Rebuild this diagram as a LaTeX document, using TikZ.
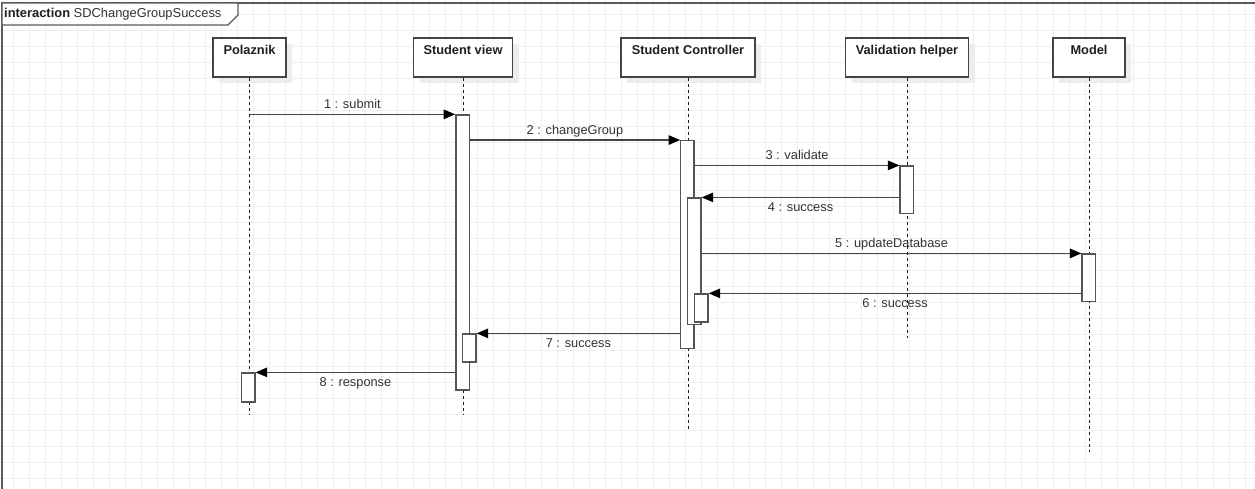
\documentclass[tikz,border=0pt]{standalone}
\usepackage{fontspec}
\setmainfont{Liberation Sans}
\usetikzlibrary{arrows.meta}
\definecolor{gridc}{HTML}{EFEFEF}
\definecolor{linec}{HTML}{444444}
\definecolor{actc}{HTML}{555555}
\definecolor{txtc}{HTML}{333333}
\definecolor{shadc}{HTML}{EDEDED}
\definecolor{framec}{HTML}{5A5A5A}
\begin{document}
\begin{tikzpicture}[x=1pt,y=-1pt,
  lifehead/.style={draw=linec, line width=1.4pt, fill=white, minimum height=39pt, inner sep=0pt},
  headtxt/.style={font=\fontsize{12.8}{15}\selectfont\bfseries, text=black!88, anchor=base, inner sep=0pt},
  lifeline/.style={draw=black!90, line width=0.9pt, dash pattern=on 3pt off 3pt},
  actbox/.style={draw=actc, line width=1.3pt, fill=white, minimum width=13.3pt, inner sep=0pt},
  msg/.style={draw=linec, line width=1.3pt, -{Triangle[length=11.5pt,width=9.5pt,black]}},
  lbla/.style={font=\fontsize{12.8}{15}\selectfont, text=txtc, anchor=base, yshift=5.7pt, inner sep=0pt},
  lblb/.style={font=\fontsize{12.8}{15}\selectfont, text=txtc, anchor=base, yshift=-14.5pt, inner sep=0pt},
]
\useasboundingbox (0,0) rectangle (1255,488);
\clip (0,0) rectangle (1255,488);
\fill[white] (0,0) rectangle (1255,488);
% grid
\foreach \gx in {13.3,29.3,...,1255} \draw[gridc, line width=1pt] (\gx,0) -- (\gx,488);
\foreach \gy in {14.3,30.3,...,488} \draw[gridc, line width=1pt] (0,\gy) -- (1255,\gy);

% frame
\draw[framec, line width=1.5pt] (2,495) -- (2,3) -- (1262,3);
\draw[framec, line width=1.2pt, fill=white] (2,3) -- (238,3) -- (238,15) -- (228,25) -- (2,25) -- cycle;
\node[anchor=base west, inner sep=0pt, font=\fontsize{12.9}{15}\selectfont, text=black!88] (title) at (4,17.5) {\textbf{interaction} \textcolor{txtc}{SDChangeGroupSuccess}};

% shadows
\foreach \xa/\xb in {213/286, 413.5/512.5, 621/755, 845.5/968.5, 1053/1125}
  \fill[shadc] (\xa+6,44) rectangle (\xb+6,83);

% heads
\node[lifehead, minimum width=73pt] (hP) at (249.5,57.5) {};
\node[lifehead, minimum width=99pt] (hV) at (463,57.5) {};
\node[lifehead, minimum width=134pt] (hC) at (688,57.5) {};
\node[lifehead, minimum width=123pt] (hH) at (907,57.5) {};
\node[lifehead, minimum width=72pt] (hM) at (1089,57.5) {};
\node[headtxt] (tP) at ([yshift=-17pt]hP.north) {Polaznik};
\node[headtxt] (tV) at ([yshift=-17pt]hV.north) {Student view};
\node[headtxt] (tC) at ([yshift=-17pt]hC.north) {Student Controller};
\node[headtxt] (tH) at ([yshift=-17pt]hH.north) {Validation helper};
\node[headtxt] (tM) at ([yshift=-17pt]hM.north) {Model};

% lifeline ends
\coordinate (eP) at (249.5,415);
\coordinate (eV) at (463,415);
\coordinate (eC) at (688,429);
\coordinate (eH) at (907,338);
\coordinate (eM) at (1089,452);
\draw[lifeline] (hP.south) -- (eP);
\draw[lifeline] (hV.south) -- (eV);
\draw[lifeline] (hC.south) -- (eC);
\draw[lifeline] (hH.south) -- (eH);
\draw[lifeline] (hM.south) -- (eM);

% activations
\node[actbox, minimum height=29pt] (aP) at (248.4,387.5) {};
\node[actbox, minimum height=275pt] (aV1) at (462.5,252.5) {};
\node[actbox, minimum height=28pt] (aV2) at (469.4,348) {};
\node[actbox, minimum height=208pt] (aC1) at (687.4,244.7) {};
\node[actbox, minimum height=126.7pt] (aC2) at (694.4,261.4) {};
\node[actbox, minimum height=28pt] (aC3) at (701.4,308) {};
\node[actbox, minimum height=47.7pt] (aH) at (906.7,189.9) {};
\node[actbox, minimum height=47.7pt] (aM) at (1088.7,277.9) {};

% messages
\draw[msg] (hP.south |- aV1.north) -- node[midway, lbla] {1 : submit} (aV1.north west);
\draw[msg] (aV1.east |- aC1.north) -- node[midway, lbla] {2 : changeGroup} (aC1.north west);
\draw[msg] (aC1.east |- aH.north) -- node[midway, lbla] {3 : validate} (aH.north west);
\draw[msg] (aH.west |- aC2.north) -- node[midway, lblb] {4 : success} (aC2.north east);
\draw[msg] (aC2.east |- aM.north) -- node[midway, lbla] {5 : updateDatabase} (aM.north west);
\draw[msg] (aM.west |- aC3.north) -- node[midway, lblb] {6 : success} (aC3.north east);
\draw[msg] (aC1.west |- aV2.north) -- node[midway, lblb] {7 : success} (aV2.north east);
\draw[msg] (aV1.west |- aP.north) -- node[midway, lblb] {8 : response} (aP.north east);
\end{tikzpicture}
\end{document}
